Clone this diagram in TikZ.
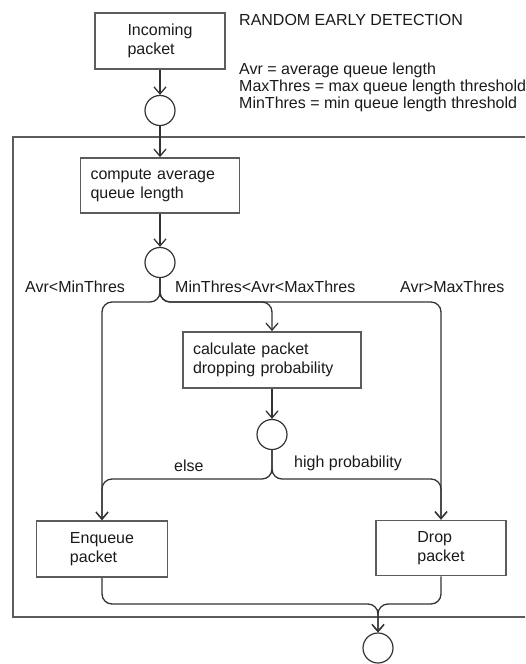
\documentclass[tikz,border=0pt]{standalone}
\usepackage{fontspec}
\setmainfont{Liberation Sans}
\usepackage{tikz}
\usetikzlibrary{arrows.meta,positioning}
\usepackage{xcolor}
\definecolor{boxgray}{HTML}{5C5C5C}
\definecolor{linegray}{HTML}{333333}
\definecolor{textgray}{HTML}{1A1A1A}

\begin{document}
\begin{tikzpicture}[
  x=1pt, y=-1pt,
  every node/.style={text=textgray, font=\fontsize{16}{19}\selectfont},
  box/.style={draw=boxgray, line width=1.8pt, align=left, inner sep=0pt, minimum height=56pt},
  leftbox/.style={box, inner xsep=10pt},
  joint/.style={circle, draw=linegray, line width=1.2pt, minimum size=30pt, inner sep=0pt},
  flow/.style={-{Straight Barb[length=7pt,width=12pt]}, draw=linegray, line width=1.3pt, rounded corners=10pt},
  lbl/.style={inner sep=0pt, anchor=west}
]
\useasboundingbox (0,0) rectangle (525,664);
\clip (0,0) rectangle (525,664);

% title and legend
\node[lbl] (title) at (239,20) {RANDOM EARLY DETECTION};
\node[lbl, align=left, font=\fontsize{16}{17}\selectfont] (legend) at (239,87)
  {Avr = average queue length\\MaxThres = max queue length threshold\\MinThres = min queue length threshold};

% outer frame
\draw[boxgray, line width=1.8pt] (13,137) rectangle (545,617);

% boxes and joints
\node[box, minimum width=130pt] (incoming) at (160,41) {Incoming\\packet};
\node[joint, below=25pt of incoming] (c1) {};
\node[leftbox, text width=139pt, minimum height=55pt] (compute) at (160,185.5) {compute average\\queue length};
\node[joint, below=33pt of compute] (c2) {};
\node[leftbox, text width=158pt] (calc) at (272,360) {calculate packet\\dropping probability};
\node[joint, below=30pt of calc] (c3) {};
\node[box, minimum width=131pt] (enq) at (102,549) {Enqueue\\packet};
\node[box, minimum width=130pt, minimum height=55pt] (drop) at (441,548) {Drop\\packet};
\node[joint] (c4) at (378,648) {};

\coordinate (split1) at (160,302);
\coordinate (split2) at (272,479);
\coordinate (merge) at (378,604);

% branch labels
\node[lbl] (lmin) at (25,287) {Avr<MinThres};
\node[lbl] (lmid) at (175,287) {MinThres<Avr<MaxThres};
\node[lbl] (lmax) at (400,287) {Avr>MaxThres};
\node[lbl] (lelse) at (174,466) {else};
\node[lbl] (lhigh) at (294,463) {high probability};

% connectors
\draw[flow] (incoming.south) -- (c1.north);
\draw[flow] (c1.south) -- (compute.north);
\draw[flow] (compute.south) -- (c2.north);
\draw[flow] (c2.south) -- (split1) -| (enq.north);
\draw[flow] (c2.south) -- (split1) -| (calc.north);
\draw[flow] (c2.south) -- (split1) -| (drop.north);
\draw[flow] (calc.south) -- (c3.north);
\draw[flow] (c3.south) -- (split2) -| (enq.north);
\draw[flow] (c3.south) -- (split2) -| (drop.north);
\draw[flow] (enq.south) |- (merge) -- (c4.north);
\draw[flow] (drop.south) |- (merge) -- (c4.north);
\end{tikzpicture}
\end{document}
